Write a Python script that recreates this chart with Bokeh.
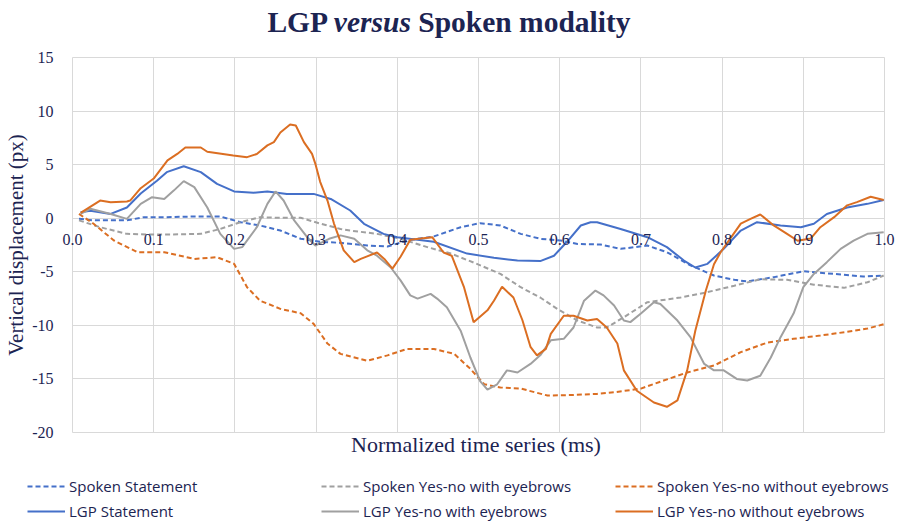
import math
from bokeh.plotting import figure
from bokeh.models import (Range1d, FixedTicker, LinearAxis, Legend, LegendItem,
                          ColumnDataSource, Div, Grid)
from bokeh.layouts import column
from bokeh.embed import file_html
from bokeh.resources import INLINE

# ---------------- data ----------------
x_ticks = [0.0, 0.1, 0.2, 0.3, 0.4, 0.5, 0.6, 0.7, 0.8, 0.9, 1.0]
x_tick_labels = ["0.0", "0.1", "0.2", "0.3", "0.4", "0.5", "0.6", "0.7", "0.8", "0.9", "1.0"]
y_ticks = [-20, -15, -10, -5, 0, 5, 10, 15]
y_tick_labels = ["-20", "-15", "-10", "-5", "0", "5", "10", "15"]

spoken_statement_x = [0.008, 0.026, 0.067, 0.088, 0.116, 0.15, 0.182, 0.207, 0.231, 0.256, 0.281, 0.305,
                      0.33, 0.363, 0.388, 0.412, 0.445, 0.478, 0.502, 0.527, 0.552, 0.576, 0.601, 0.622,
                      0.65, 0.675, 0.708, 0.732, 0.761, 0.79, 0.815, 0.831, 0.864, 0.9, 0.938, 0.974, 0.999]
spoken_statement_y = [-0.06, -0.2, -0.2, 0.1, 0.1, 0.16, 0.16, -0.37, -0.68, -1.15, -1.92, -2.2,
                      -2.3, -2.55, -2.64, -2.08, -1.7, -0.84, -0.46, -0.68, -1.46, -1.92, -2.08, -2.4,
                      -2.45, -2.86, -2.55, -3.17, -4.4, -5.35, -5.75, -5.9, -5.5, -4.95, -5.2, -5.45, -5.35]

spoken_with_x = [0.008, 0.034, 0.067, 0.092, 0.121, 0.158, 0.182, 0.207, 0.231, 0.252, 0.281, 0.305,
                 0.33, 0.342, 0.375, 0.404, 0.437, 0.466, 0.498, 0.527, 0.552, 0.576, 0.597, 0.622,
                 0.646, 0.658, 0.679, 0.708, 0.749, 0.782, 0.815, 0.847, 0.88, 0.913, 0.95, 0.979, 0.999]
spoken_with_y = [-0.2, -0.84, -1.46, -1.52, -1.52, -1.46, -1.0, -0.37, 0.1, 0.04, 0.04, -0.5,
                 -1.0, -1.15, -1.46, -1.92, -2.7, -3.3, -4.26, -5.2, -6.44, -7.4, -8.46, -9.55,
                 -10.2, -10.2, -9.24, -7.84, -7.4, -6.9, -6.3, -5.7, -5.75, -6.2, -6.5, -5.98, -5.35]

spoken_without_x = [0.008, 0.026, 0.051, 0.08, 0.113, 0.15, 0.178, 0.199, 0.215, 0.231, 0.256, 0.281,
                    0.297, 0.314, 0.33, 0.363, 0.388, 0.412, 0.445, 0.47, 0.49, 0.507, 0.527, 0.552,
                    0.585, 0.617, 0.646, 0.667, 0.7, 0.728, 0.757, 0.79, 0.823, 0.856, 0.888, 0.921,
                    0.954, 0.979, 0.999]
spoken_without_y = [0.4, -0.52, -2.08, -3.17, -3.17, -3.8, -3.64, -4.26, -6.44, -7.7, -8.46, -8.87,
                    -9.86, -11.7, -12.66, -13.3, -12.8, -12.2, -12.2, -12.66, -14.06, -15.5, -15.8, -15.9,
                    -16.55, -16.5, -16.4, -16.25, -15.9, -15.15, -14.4, -13.75, -12.5, -11.6, -11.26, -10.95,
                    -10.6, -10.3, -9.9]

lgp_statement_x = [0.01, 0.022, 0.047, 0.067, 0.084, 0.104, 0.116, 0.137, 0.158, 0.178, 0.199, 0.223,
                   0.24, 0.264, 0.297, 0.318, 0.342, 0.359, 0.383, 0.4, 0.445, 0.486, 0.519, 0.548,
                   0.576, 0.593, 0.609, 0.626, 0.638, 0.646, 0.675, 0.708, 0.732, 0.753, 0.767, 0.782,
                   0.802, 0.823, 0.843, 0.872, 0.897, 0.913, 0.929, 0.954, 0.979, 0.999]
lgp_statement_y = [0.55, 0.7, 0.4, 1.0, 2.3, 3.5, 4.3, 4.85, 4.3, 3.2, 2.5, 2.37,
                   2.5, 2.27, 2.27, 1.8, 0.72, -0.52, -1.46, -1.77, -2.2, -3.3, -3.7, -3.95,
                   -4.0, -3.5, -2.2, -0.68, -0.37, -0.37, -1.0, -1.77, -2.7, -3.95, -4.6, -4.26,
                   -2.86, -1.15, -0.37, -0.68, -0.84, -0.52, 0.4, 1.0, 1.34, 1.7]

lgp_with_x = [0.01, 0.022, 0.047, 0.067, 0.084, 0.098, 0.113, 0.125, 0.137, 0.15, 0.166, 0.182,
              0.199, 0.209, 0.227, 0.24, 0.25, 0.26, 0.273, 0.289, 0.299, 0.316, 0.33, 0.347,
              0.363, 0.375, 0.392, 0.404, 0.416, 0.425, 0.441, 0.449, 0.461, 0.478, 0.49, 0.502,
              0.511, 0.523, 0.535, 0.548, 0.564, 0.576, 0.589, 0.605, 0.617, 0.63, 0.644, 0.654,
              0.667, 0.679, 0.687, 0.7, 0.716, 0.724, 0.745, 0.761, 0.778, 0.79, 0.802, 0.818,
              0.831, 0.847, 0.86, 0.872, 0.888, 0.9, 0.913, 0.929, 0.946, 0.962, 0.979, 0.999]
lgp_with_y = [0.4, 0.88, 0.4, -0.06, 1.34, 1.96, 1.8, 2.6, 3.46, 2.9, 1.0, -1.46,
              -2.86, -2.7, -0.84, 1.34, 2.5, 1.65, -0.21, -1.77, -2.55, -1.92, -1.6, -1.92,
              -3.0, -3.5, -4.6, -5.8, -7.2, -7.5, -7.06, -7.5, -8.3, -10.5, -13.0, -15.2,
              -16.0, -15.5, -14.2, -14.4, -13.6, -12.8, -11.4, -11.26, -10.2, -7.7, -6.75, -7.2,
              -8.15, -9.55, -9.7, -8.9, -7.84, -8.0, -9.55, -11.1, -13.6, -14.2, -14.2, -15.0,
              -15.15, -14.7, -13.0, -11.1, -8.9, -6.44, -5.2, -4.1, -2.86, -2.1, -1.46, -1.3]

lgp_without_x = [0.01, 0.034, 0.047, 0.067, 0.071, 0.084, 0.1, 0.117, 0.129, 0.139, 0.158, 0.166,
                 0.198, 0.215, 0.227, 0.24, 0.248, 0.256, 0.268, 0.275, 0.285, 0.295, 0.299, 0.305,
                 0.314, 0.322, 0.334, 0.347, 0.355, 0.375, 0.384, 0.394, 0.404, 0.416, 0.429, 0.443,
                 0.457, 0.467, 0.482, 0.494, 0.511, 0.519, 0.529, 0.543, 0.554, 0.564, 0.572, 0.583,
                 0.589, 0.605, 0.617, 0.634, 0.646, 0.658, 0.671, 0.679, 0.695, 0.716, 0.732, 0.745,
                 0.757, 0.767, 0.78, 0.79, 0.798, 0.81, 0.823, 0.835, 0.847, 0.864, 0.88, 0.893,
                 0.909, 0.921, 0.938, 0.954, 0.966, 0.983, 0.999]
lgp_without_y = [0.5, 1.65, 1.5, 1.56, 1.65, 2.8, 3.7, 5.4, 6.0, 6.6, 6.6, 6.2,
                 5.85, 5.7, 6.0, 6.8, 7.1, 8.0, 8.75, 8.65, 7.1, 6.0, 5.1, 3.4,
                 1.65, -0.5, -3.0, -4.1, -3.8, -3.2, -3.8, -4.7, -3.6, -2.0, -1.9, -1.77,
                 -3.2, -3.5, -6.4, -9.7, -8.6, -7.7, -6.4, -7.4, -9.5, -12.0, -12.8, -12.2,
                 -10.8, -9.1, -9.1, -9.55, -9.4, -10.2, -11.7, -14.2, -16.1, -17.2, -17.6, -17.0,
                 -14.2, -10.5, -6.75, -4.3, -3.2, -1.9, -0.5, -0.06, 0.35, -0.7, -1.46, -2.1,
                 -1.9, -0.84, 0.1, 1.2, 1.5, 2.0, 1.7]

series_names = ["Spoken Statement", "Spoken Yes-no with eyebrows", "Spoken Yes-no without eyebrows",
                "LGP Statement", "LGP Yes-no with eyebrows", "LGP Yes-no without eyebrows"]

# ---------------- styling / layout ----------------
NAVY = "#1c2452"
BLUE = "#4570C9"
GRAY = "#A0A0A0"
ORANGE = "#DB6E22"
GRID = "#d9d9d9"
SERIF = "Liberation Serif"
DASH = "5 3"

W = 898
TITLE_H = 48
LEG_H = 46
MAIN_H = 521 - TITLE_H - LEG_H

# target pixel geometry of the plotting area (page coordinates)
X0_PX, X1_PX = 72, 884        # x = 0 and x = 1
Y15_PX, YM20_PX = 57, 432     # y = 15 and y = -20
FRAME_L, FRAME_R = 0, W - 2
FRAME_T = TITLE_H             # frame starts right below the title
FRAME_B = 441

xs_per_px = 1.0 / (X1_PX - X0_PX)
ys_per_px = 35.0 / (YM20_PX - Y15_PX)
x_lo = 0 - (X0_PX - FRAME_L) * xs_per_px
x_hi = 1 + (FRAME_R - X1_PX) * xs_per_px
y_hi = 15 + (Y15_PX - FRAME_T) * ys_per_px
y_lo = -20 - (FRAME_B - YM20_PX) * ys_per_px

title = Div(text="<b>LGP <i>versus</i> Spoken modality</b>", width=W, height=TITLE_H,
            margin=(0, 0, 0, 0),
            styles={"font-family": "'Liberation Serif', serif", "font-size": "29.5px",
                    "color": NAVY, "text-align": "center", "line-height": "44px",
                    "width": "%dpx" % W})

p = figure(width=W, height=MAIN_H, output_backend="svg", toolbar_location=None,
           title=None, x_range=Range1d(x_lo, x_hi), y_range=Range1d(y_lo, y_hi),
           min_border_left=FRAME_L, min_border_right=W - FRAME_R, min_border_top=0,
           min_border_bottom=MAIN_H - (FRAME_B - TITLE_H),
           background_fill_color="white", border_fill_color="white")
p.outline_line_color = None

# x axis crossing at y = 0
xa = p.xaxis[0]
xa.ticker = FixedTicker(ticks=x_ticks)
xa.major_label_overrides = {t: l for t, l in zip(x_ticks, x_tick_labels)}
xa.fixed_location = 0
xa.axis_line_color = None
xa.major_tick_line_color = None
xa.minor_tick_line_color = None
xa.major_label_standoff = 10
xa.major_label_text_font = SERIF
xa.major_label_text_font_size = "16px"
xa.major_label_text_color = NAVY

# y axis placed at x = 0
ya = p.yaxis[0]
ya.ticker = FixedTicker(ticks=y_ticks)
ya.major_label_overrides = {t: l for t, l in zip(y_ticks, y_tick_labels)}
ya.fixed_location = 0
ya.axis_line_color = None
ya.major_tick_line_color = None
ya.minor_tick_line_color = None
ya.major_label_standoff = 13
ya.major_label_text_font = SERIF
ya.major_label_text_font_size = "16px"
ya.major_label_text_color = NAVY
ya.axis_label = "Vertical displacement (px)"
ya.axis_label_text_font = SERIF
ya.axis_label_text_font_size = "21px"
ya.axis_label_text_font_style = "normal"
ya.axis_label_text_color = NAVY
ya.axis_label_standoff = 1

# separate axis carrying only the x axis title; leading no-break spaces shift
# its centre from the middle of the canvas to the middle of x = 0..1
XLABEL = "Normalized time series (ms)"
xlab = LinearAxis(ticker=FixedTicker(ticks=[]), axis_label="\u00a0" * 10 + XLABEL,
                  axis_line_color=None, major_tick_line_color=None, minor_tick_line_color=None,
                  major_label_text_font_size="0px", axis_label_standoff=-10,
                  axis_label_text_font=SERIF, axis_label_text_font_size="22px",
                  axis_label_text_font_style="normal", axis_label_text_color=NAVY)
p.add_layout(xlab, "below")

p.xgrid.ticker = FixedTicker(ticks=x_ticks)
p.ygrid.ticker = FixedTicker(ticks=y_ticks)
p.xgrid.grid_line_color = GRID
p.ygrid.grid_line_color = GRID
if "cross_bounds" in Grid.properties():
    p.ygrid.cross_bounds = (x_ticks[0], x_ticks[-1])
    p.xgrid.cross_bounds = (y_ticks[0], y_ticks[-1])

specs = [
    (spoken_statement_x, spoken_statement_y, BLUE, DASH),
    (spoken_with_x, spoken_with_y, GRAY, DASH),
    (spoken_without_x, spoken_without_y, ORANGE, DASH),
    (lgp_statement_x, lgp_statement_y, BLUE, "solid"),
    (lgp_with_x, lgp_with_y, GRAY, "solid"),
    (lgp_without_x, lgp_without_y, ORANGE, "solid"),
]
for xs, ys, col, dash in specs:
    src = ColumnDataSource(data=dict(x=xs, y=ys))
    p.line("x", "y", source=src, line_color=col, line_width=2, line_dash=dash)

# legend strip below the chart (its own canvas)
lg = figure(width=W, height=LEG_H, output_backend="svg", toolbar_location=None,
            title=None, x_axis_type=None, y_axis_type=None,
            x_range=Range1d(0, 1), y_range=Range1d(0, 1),
            min_border_left=0, min_border_right=0, min_border_top=0, min_border_bottom=0,
            background_fill_color="white", border_fill_color="white")
lg.outline_line_color = None
lg.xgrid.visible = False
lg.ygrid.visible = False
proxies = []
for xs, ys, col, dash in specs:
    proxies.append(lg.line(x=[math.nan], y=[math.nan], line_color=col, line_width=2, line_dash=dash))
items = [LegendItem(label=n, renderers=[r]) for n, r in zip(series_names, proxies)]
legend = Legend(items=items, location=(27, 0), orientation="horizontal", ncols=3,
                glyph_width=38, glyph_height=20, label_height=20, label_width=247,
                label_standoff=4, spacing=5, padding=0, margin=0,
                border_line_color=None, background_fill_alpha=0,
                label_text_font="Open Sans", label_text_font_size="15px",
                label_text_color=NAVY)
lg.add_layout(legend)

open("out.html", "w").write(file_html(column(title, p, lg, spacing=0), INLINE))
